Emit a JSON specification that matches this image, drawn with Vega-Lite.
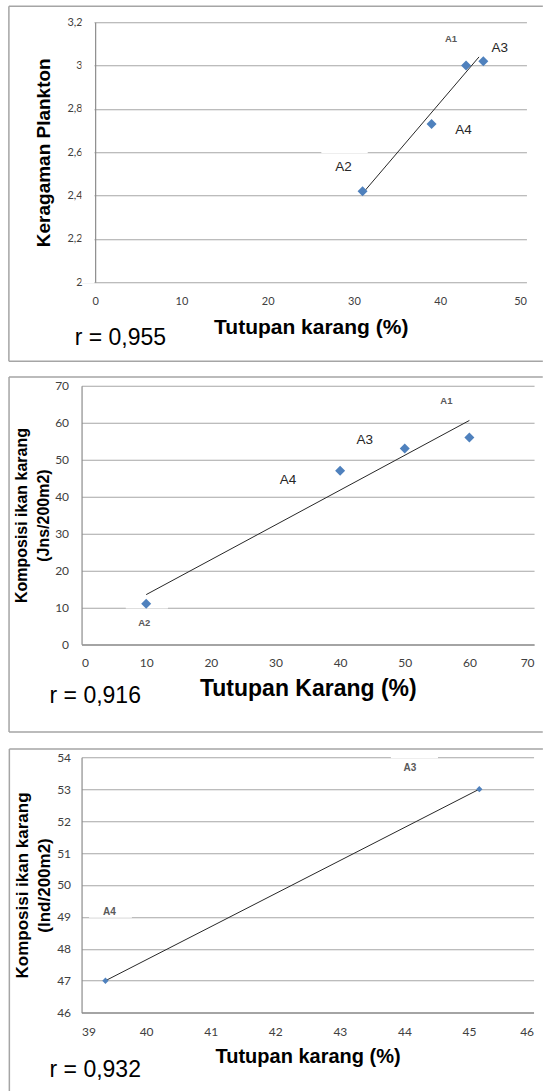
{
  "$schema": "https://vega.github.io/schema/vega-lite/v6.json",
  "background": "white",
  "padding": {"left": 7.55, "top": 5.25, "right": 0, "bottom": 0},
  "columns": 1,
  "align": "none",
  "spacing": 13.5,
  "config": {
    "view": {"stroke": null},
    "axis": {"ticks": false, "domainColor": "#8c8c8c", "domainWidth": 1.2, "gridColor": "#a6a6a6", "gridWidth": 1.2, "labelFont": "Lato", "labelColor": "#404040", "labelFontSize": 12, "titleFont": "Liberation Sans", "titleColor": "#000000", "titleFontWeight": "bold"},
    "axisX": {"grid": false},
    "axisY": {"grid": true}
  },
  "concat": [
    {
      "width": 444.9, "height": 260,
      "data": {"values": [
        {"site": "A1", "x": 43, "y": 3.0},
        {"site": "A2", "x": 31, "y": 2.42},
        {"site": "A3", "x": 45, "y": 3.02},
        {"site": "A4", "x": 39, "y": 2.73}
      ]},
      "encoding": {
        "x": {"field": "x", "type": "quantitative", "scale": {"domain": [-1.577, 50], "nice": false, "zero": false},
              "axis": {"values": [0, 10, 20, 30, 40, 50], "domain": false, "title": null, "labelFontSize": 11, "labelPadding": 13}},
        "y": {"field": "y", "type": "quantitative", "scale": {"domain": [2, 3.2], "nice": false, "zero": false},
              "axis": {"values": [2, 2.2, 2.4, 2.6, 2.8, 3, 3.2], "offset": -13.6, "labelExpr": "replace(format(datum.value, '~g'), '.', ',')", "title": "Keragaman Plankton", "titleFontSize": 19, "labelFontSize": 11, "labelPadding": 13, "titlePadding": 13}}
      },
      "layer": [
        {"transform": [{"filter": "datum.site === 'A1'"}], "mark": {"type": "rect", "color": "#ffffff", "opacity": 1},
         "encoding": {"x": {"datum": -1.577, "type": "quantitative"}, "x2": {"datum": -0.08},
                      "y": {"datum": 1.994, "type": "quantitative"}, "y2": {"datum": 3.206}}},
        {"transform": [{"filter": "datum.site === 'A1'"}], "mark": {"type": "rect", "color": "#ffffff", "opacity": 1},
         "encoding": {"x": {"datum": 26.22, "type": "quantitative"}, "x2": {"datum": 31.6},
                      "y": {"datum": 2.595, "type": "quantitative"}, "y2": {"datum": 2.605}}},
        {"transform": [{"filter": "datum.site === 'A1'"}], "mark": {"type": "rule", "color": "#a5a5a5", "strokeWidth": 1.5},
         "encoding": {"x": {"datum": -10, "type": "quantitative"}, "x2": {"datum": 51.9},
                      "y": {"datum": 3.274, "type": "quantitative"}}},
        {"transform": [{"filter": "datum.site === 'A1'"}], "mark": {"type": "rule", "color": "#a5a5a5", "strokeWidth": 1.5},
         "encoding": {"x": {"datum": -10, "type": "quantitative"}, "x2": {"datum": 51.9},
                      "y": {"datum": 1.6354, "type": "quantitative"}}},
        {"transform": [{"filter": "datum.site === 'A1'"}], "mark": {"type": "rule", "color": "#a5a5a5", "strokeWidth": 1.5},
         "encoding": {"x": {"datum": -10, "type": "quantitative"},
                      "y": {"datum": 3.274, "type": "quantitative"}, "y2": {"datum": 1.6354}}},
        {"data": {"values": [{"x": 31, "y": 2.41}, {"x": 44.5, "y": 3.04}]},
         "mark": {"type": "line", "color": "#262626", "strokeWidth": 1}},
        {"mark": {"type": "point", "shape": "diamond", "filled": true, "opacity": 1, "color": "#4f81bd", "size": 100}},
        {"transform": [{"filter": "datum.site === 'A1'"}], "mark": {"type": "text", "dx": -15, "dy": -27, "font": "Liberation Sans", "fontSize": 9.5, "fontWeight": "bold", "color": "#595959"}, "encoding": {"text": {"field": "site"}}},
        {"transform": [{"filter": "datum.site === 'A3'"}], "mark": {"type": "text", "dx": 16.5, "dy": -13, "font": "Liberation Sans", "fontSize": 13.5, "color": "#262626"}, "encoding": {"text": {"field": "site"}}},
        {"transform": [{"filter": "datum.site === 'A4'"}], "mark": {"type": "text", "dx": 32, "dy": 6, "font": "Liberation Sans", "fontSize": 13.5, "color": "#262626"}, "encoding": {"text": {"field": "site"}}},
        {"transform": [{"filter": "datum.site === 'A2'"}], "mark": {"type": "text", "dx": -19, "dy": -24, "font": "Liberation Sans", "fontSize": 13.5, "color": "#262626"}, "encoding": {"text": {"field": "site"}}},
        {"transform": [{"filter": "datum.site === 'A1'"}], "mark": {"type": "text", "text": "Tutupan karang (%)", "font": "Liberation Sans", "fontSize": 21, "fontWeight": "bold", "color": "#000000"},
         "encoding": {"x": {"datum": 25.05, "type": "quantitative"},
                      "y": {"datum": 1.7877, "type": "quantitative"}}},
        {"transform": [{"filter": "datum.site === 'A1'"}], "mark": {"type": "text", "text": "r = 0,955", "font": "Liberation Sans", "fontSize": 23, "color": "#000000"},
         "encoding": {"x": {"datum": 2.93, "type": "quantitative"},
                      "y": {"datum": 1.7415, "type": "quantitative"}}}
      ]
    },
    {
      "width": 452.5, "height": 258.6,
      "data": {"values": [
        {"site": "A1", "x": 60, "y": 56},
        {"site": "A2", "x": 10, "y": 11},
        {"site": "A3", "x": 50, "y": 53},
        {"site": "A4", "x": 40, "y": 47}
      ]},
      "encoding": {
        "x": {"field": "x", "type": "quantitative", "scale": {"domain": [0, 70], "nice": false, "zero": false},
              "axis": {"values": [0, 10, 20, 30, 40, 50, 60, 70], "title": "Tutupan Karang (%)", "titleFontSize": 23, "labelPadding": 13, "titlePadding": 9}},
        "y": {"field": "y", "type": "quantitative", "scale": {"domain": [0, 70], "nice": false, "zero": false},
              "axis": {"values": [0, 10, 20, 30, 40, 50, 60, 70], "title": ["Komposisi ikan karang", "(Jns/200m2)"], "titleFontSize": 16, "titleLineHeight": 22, "labelPadding": 13, "titlePadding": 3}}
      },
      "layer": [
        {"transform": [{"filter": "datum.site === 'A1'"}], "mark": {"type": "rect", "color": "#ffffff", "opacity": 1},
         "encoding": {"x": {"datum": 6.84, "type": "quantitative"}, "x2": {"datum": 13.37},
                      "y": {"datum": 9.73, "type": "quantitative"}, "y2": {"datum": 10.27}}},
        {"transform": [{"filter": "datum.site === 'A1'"}], "mark": {"type": "rule", "color": "#a5a5a5", "strokeWidth": 1.5},
         "encoding": {"x": {"datum": -11.216, "type": "quantitative"}, "x2": {"datum": 71.35},
                      "y": {"datum": 72.36, "type": "quantitative"}}},
        {"transform": [{"filter": "datum.site === 'A1'"}], "mark": {"type": "rule", "color": "#a5a5a5", "strokeWidth": 1.5},
         "encoding": {"x": {"datum": -11.216, "type": "quantitative"}, "x2": {"datum": 71.35},
                      "y": {"datum": -23.74, "type": "quantitative"}}},
        {"transform": [{"filter": "datum.site === 'A1'"}], "mark": {"type": "rule", "color": "#a5a5a5", "strokeWidth": 1.5},
         "encoding": {"x": {"datum": -11.216, "type": "quantitative"},
                      "y": {"datum": 72.36, "type": "quantitative"}, "y2": {"datum": -23.74}}},
        {"data": {"values": [{"x": 10, "y": 13.46}, {"x": 60, "y": 60.61}]},
         "mark": {"type": "line", "color": "#262626", "strokeWidth": 1}},
        {"mark": {"type": "point", "shape": "diamond", "filled": true, "opacity": 1, "color": "#4f81bd", "size": 100}},
        {"transform": [{"filter": "datum.site === 'A1'"}], "mark": {"type": "text", "dx": -23, "dy": -36, "font": "Liberation Sans", "fontSize": 9.5, "fontWeight": "bold", "color": "#595959"}, "encoding": {"text": {"field": "site"}}},
        {"transform": [{"filter": "datum.site === 'A3'"}], "mark": {"type": "text", "dx": -40, "dy": -8.5, "font": "Liberation Sans", "fontSize": 13.5, "color": "#262626"}, "encoding": {"text": {"field": "site"}}},
        {"transform": [{"filter": "datum.site === 'A4'"}], "mark": {"type": "text", "dx": -52, "dy": 9, "font": "Liberation Sans", "fontSize": 13.5, "color": "#262626"}, "encoding": {"text": {"field": "site"}}},
        {"transform": [{"filter": "datum.site === 'A2'"}], "mark": {"type": "text", "dx": -2, "dy": 19, "font": "Liberation Sans", "fontSize": 9.5, "fontWeight": "bold", "color": "#595959"}, "encoding": {"text": {"field": "site"}}},
        {"transform": [{"filter": "datum.site === 'A2'"}], "mark": {"type": "text", "text": "r = 0,916", "font": "Liberation Sans", "fontSize": 23, "color": "#000000"},
         "encoding": {"x": {"datum": 2.12, "type": "quantitative"},
                      "y": {"datum": -14.0, "type": "quantitative"}}}
      ]
    },
    {
      "width": 452, "height": 255.4,
      "data": {"values": [
        {"site": "A3", "x": 45.16, "y": 53},
        {"site": "A4", "x": 39.37, "y": 47}
      ]},
      "encoding": {
        "x": {"field": "x", "type": "quantitative", "scale": {"domain": [39, 46], "nice": false, "zero": false},
              "axis": {"values": [39, 40, 41, 42, 43, 44, 45, 46], "title": "Tutupan karang (%)", "titleFontSize": 20, "labelPadding": 13.5, "titlePadding": 9}},
        "y": {"field": "y", "type": "quantitative", "scale": {"domain": [46, 54], "nice": false, "zero": false},
              "axis": {"values": [46, 47, 48, 49, 50, 51, 52, 53, 54], "title": ["Komposisi ikan karang", "(Ind/200m2)"], "titleFontSize": 17, "titleLineHeight": 22, "labelPadding": 11, "titlePadding": 3}}
      },
      "layer": [
        {"transform": [{"filter": "datum.site === 'A3'"}], "mark": {"type": "rect", "color": "#ffffff", "opacity": 1},
         "encoding": {"x": {"datum": 43.79, "type": "quantitative"}, "x2": {"datum": 44.52},
                      "y": {"datum": 53.97, "type": "quantitative"}, "y2": {"datum": 54.03}}},
        {"transform": [{"filter": "datum.site === 'A3'"}], "mark": {"type": "rect", "color": "#ffffff", "opacity": 1},
         "encoding": {"x": {"datum": 39.116, "type": "quantitative"}, "x2": {"datum": 39.78},
                      "y": {"datum": 48.97, "type": "quantitative"}, "y2": {"datum": 49.03}}},
        {"transform": [{"filter": "datum.site === 'A3'"}], "mark": {"type": "rule", "color": "#a5a5a5", "strokeWidth": 1.5},
         "encoding": {"x": {"datum": 37.882, "type": "quantitative"}, "x2": {"datum": 46.145},
                      "y": {"datum": 54.26, "type": "quantitative"}}},
        {"transform": [{"filter": "datum.site === 'A3'"}], "mark": {"type": "rule", "color": "#a5a5a5", "strokeWidth": 1.5},
         "encoding": {"x": {"datum": 37.882, "type": "quantitative"},
                      "y": {"datum": 54.26, "type": "quantitative"}, "y2": {"datum": 43.516}}},
        {"mark": {"type": "line", "color": "#262626", "strokeWidth": 1}},
        {"mark": {"type": "point", "shape": "diamond", "filled": true, "opacity": 1, "color": "#4f81bd", "size": 40}},
        {"transform": [{"filter": "datum.site === 'A3'"}], "mark": {"type": "text", "dx": -69.4, "dy": -21.3, "font": "Liberation Sans", "fontSize": 10, "fontWeight": "bold", "color": "#595959"}, "encoding": {"text": {"field": "site"}}},
        {"transform": [{"filter": "datum.site === 'A4'"}], "mark": {"type": "text", "dx": 4, "dy": -68.7, "font": "Liberation Sans", "fontSize": 10, "fontWeight": "bold", "color": "#595959"}, "encoding": {"text": {"field": "site"}}},
        {"transform": [{"filter": "datum.site === 'A3'"}], "mark": {"type": "text", "text": "r = 0,932", "font": "Liberation Sans", "fontSize": 23, "color": "#000000"},
         "encoding": {"x": {"datum": 39.212, "type": "quantitative"},
                      "y": {"datum": 44.215, "type": "quantitative"}}}
      ]
    }
  ]
}
